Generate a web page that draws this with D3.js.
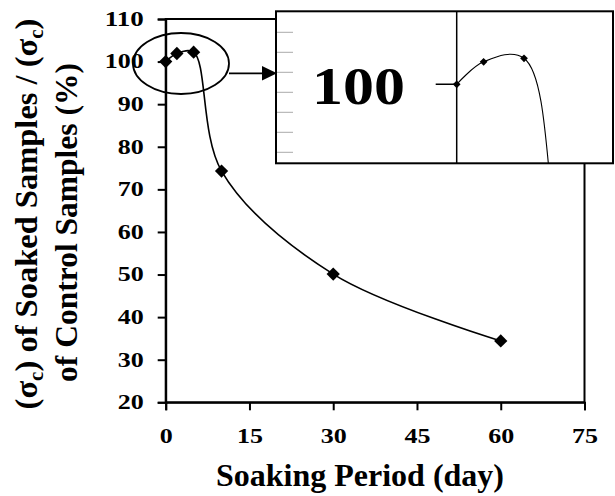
<!DOCTYPE html>
<html>
<head>
<meta charset="utf-8">
<script src="https://cdn.jsdelivr.net/npm/d3@7"></script>
</head>
<body style="margin:0;background:#fff">
<svg id="chart" width="615" height="496"></svg>
<script>
(function(){

	// soaking period (day) and strength ratio (%)
	var days = [0, 2, 5, 10, 30, 60];
	var ratio = [100, 101.9, 102.2, 74.3, 50.1, 34.4];
	var xTicks = [0, 15, 30, 45, 60, 75];
	var yTicks = [20, 30, 40, 50, 60, 70, 80, 90, 100, 110];
	var insetGrayTicks = [1, 2, 3, 4, 5, 6, 7];

	var FONT = "Liberation Serif";
	var svg = d3.select("#chart");
	var pts = days.map(function(d, i){ return { day : d, val : ratio[i] }; });

	var x = d3.scaleLinear().domain([0, 75]).range([165.7, 584.5]);
	var y = d3.scaleLinear().domain([20, 110]).range([402.3, 19]);

	// frame
	svg.append("rect")
		.attr("x", x(0)).attr("y", y(110))
		.attr("width", x(75) - x(0)).attr("height", y(20) - y(110))
		.attr("fill", "none").attr("stroke", "#000").attr("stroke-width", 2);

	var xAxis = svg.append("g")
		.attr("transform", "translate(0," + y(20) + ")")
		.call(d3.axisBottom(x).tickValues(xTicks).tickSize(8).tickPadding(19));
	var yAxis = svg.append("g")
		.attr("transform", "translate(" + x(0) + ",0)")
		.call(d3.axisLeft(y).tickValues(yTicks).tickSize(8).tickPadding(14));

	[xAxis, yAxis].forEach(function(g){
		g.attr("font-family", FONT).attr("font-size", 20).attr("font-weight", "bold");
		g.select(".domain").attr("stroke-width", 2);
		g.selectAll(".tick line").attr("stroke-width", 2);
		// the original labels are drawn wide
		g.selectAll("text").attr("fill", "#000")
			.attr("textLength", function(d){ return String(d).length * 13; })
			.attr("lengthAdjust", "spacingAndGlyphs");
	});

	var line = d3.line()
		.x(function(d){ return x(d.day); })
		.y(function(d){ return y(d.val); })
		.curve(d3.curveCatmullRom.alpha(0.5));

	svg.append("path").datum(pts)
		.attr("d", line)
		.attr("fill", "none").attr("stroke", "#000").attr("stroke-width", 1.6);

	var diamond = d3.symbol().type(d3.symbolSquare).size(88);
	svg.selectAll(".pt").data(pts).enter().append("path")
		.attr("class", "pt")
		.attr("d", diamond)
		.attr("transform", function(d){ return "translate(" + x(d.day) + "," + y(d.val) + ") rotate(45)"; });

	// highlight ellipse and arrow
	svg.append("ellipse")
		.attr("cx", 181).attr("cy", 63.5).attr("rx", 48).attr("ry", 30.5)
		.attr("fill", "none").attr("stroke", "#000").attr("stroke-width", 1.8);
	svg.append("line")
		.attr("x1", 229).attr("y1", 73.3).attr("x2", 264).attr("y2", 73.3)
		.attr("stroke", "#000").attr("stroke-width", 1.8);
	svg.append("path")
		.attr("d", "M262,66 L277,73.3 L262,80.6 Z");

	// inset (zoom on first points)
	var inset = { x0 : 276, y0 : 11.3, x1 : 613, y1 : 163.3 };
	svg.append("defs").append("clipPath").attr("id", "insetClip")
		.append("rect")
		.attr("x", inset.x0).attr("y", inset.y0)
		.attr("width", inset.x1 - inset.x0).attr("height", inset.y1 - inset.y0);

	var ix = d3.scaleLinear().domain([0, 5]).range([456.7, 524]);
	var iy = d3.scaleLinear().domain([100, 102.2]).range([84.3, 58.3]);
	var gTick = d3.scaleLinear().domain([1, 7]).range([32.3, 152.3]);

	svg.append("rect")
		.attr("x", inset.x0).attr("y", inset.y0)
		.attr("width", inset.x1 - inset.x0).attr("height", inset.y1 - inset.y0)
		.attr("fill", "#fff");

	var ig = svg.append("g").attr("clip-path", "url(#insetClip)");

	ig.selectAll(".gtick").data(insetGrayTicks).enter().append("line")
		.attr("x1", inset.x0).attr("x2", 293)
		.attr("y1", gTick).attr("y2", gTick)
		.attr("stroke", "#bbb").attr("stroke-width", 1.3);

	ig.append("line")
		.attr("x1", ix(0)).attr("x2", ix(0)).attr("y1", inset.y0).attr("y2", inset.y1)
		.attr("stroke", "#000").attr("stroke-width", 1.5);
	ig.append("line")
		.attr("x1", 435.7).attr("x2", ix(0)).attr("y1", iy(100)).attr("y2", iy(100))
		.attr("stroke", "#000").attr("stroke-width", 1.5);
	ig.append("text")
		.attr("x", 312).attr("y", 103.5)
		.attr("textLength", 93).attr("lengthAdjust", "spacingAndGlyphs")
		.attr("font-family", FONT).attr("font-weight", "bold").attr("font-size", 52)
		.text("100");

	var iline = d3.line()
		.x(function(d){ return ix(d.day); })
		.y(function(d){ return iy(d.val); })
		.curve(d3.curveCatmullRom.alpha(0.5));
	ig.append("path").datum(pts)
		.attr("d", iline)
		.attr("fill", "none").attr("stroke", "#000").attr("stroke-width", 1.1);
	ig.selectAll(".ipt").data(pts).enter().append("path")
		.attr("d", d3.symbol().type(d3.symbolSquare).size(30))
		.attr("transform", function(d){ return "translate(" + ix(d.day) + "," + iy(d.val) + ") rotate(45)"; });

	svg.append("rect")
		.attr("x", inset.x0).attr("y", inset.y0)
		.attr("width", inset.x1 - inset.x0).attr("height", inset.y1 - inset.y0)
		.attr("fill", "none").attr("stroke", "#000").attr("stroke-width", 2);

	// axis titles
	svg.append("text")
		.attr("x", 360).attr("y", 486)
		.attr("text-anchor", "middle")
		.attr("font-family", FONT).attr("font-weight", "bold").attr("font-size", 32)
		.text("Soaking Period (day)");

	var t1 = svg.append("text")
		.attr("transform", "translate(37,214) rotate(-90)")
		.attr("text-anchor", "middle")
		.attr("font-family", FONT).attr("font-weight", "bold").attr("font-size", 32.5);
	t1.append("tspan").text("(σ");
	t1.append("tspan").attr("dy", 6).attr("font-size", 21).text("c");
	t1.append("tspan").attr("dy", -6).text(") of Soaked Samples / (σ");
	t1.append("tspan").attr("dy", 6).attr("font-size", 21).text("c");
	t1.append("tspan").attr("dy", -6).text(")");

	svg.append("text")
		.attr("transform", "translate(77,222.5) rotate(-90)")
		.attr("text-anchor", "middle")
		.attr("font-family", FONT).attr("font-weight", "bold").attr("font-size", 31.5)
		.text("of Control Samples (%)");

})();
</script>
</body>
</html>
